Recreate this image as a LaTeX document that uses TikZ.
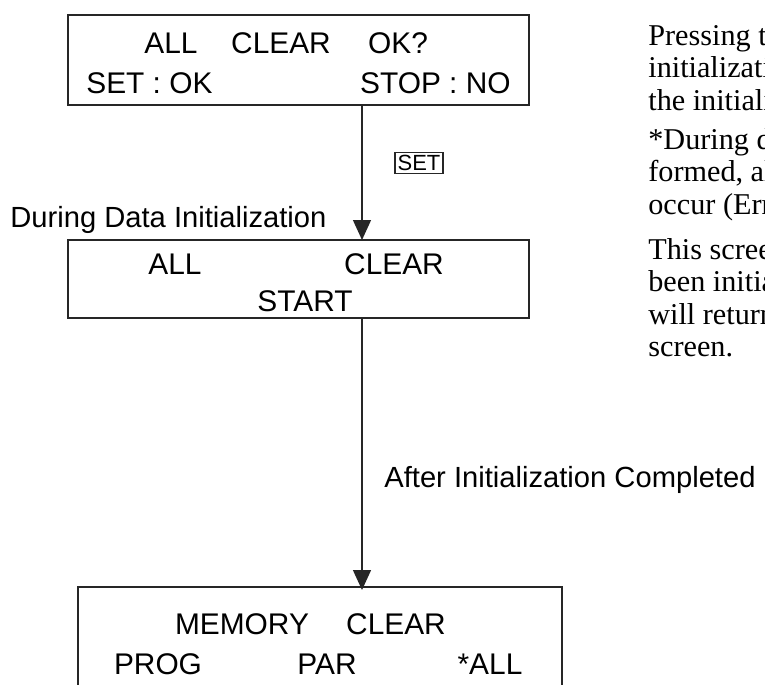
\documentclass[tikz,border=0pt]{standalone}
\usepackage{fontspec}
\setmainfont{Liberation Serif}
\setsansfont{Liberation Sans}
\usetikzlibrary{arrows.meta, positioning}

\begin{document}
\begin{tikzpicture}[
    x=0.02cm, y=-0.02cm,
    screen/.style={rectangle, draw=black!85, line width=0.8pt, inner sep=0pt},
    lcd/.style={font=\sffamily\fontsize{17}{20}\selectfont, inner sep=0pt, anchor=base},
    note/.style={font=\sffamily\fontsize{16.6}{20}\selectfont, inner sep=0pt, anchor=base west},
    keybox/.style={rectangle, draw=black!85, line width=0.6pt, inner sep=1.5pt, font=\sffamily\fontsize{12.5}{14}\selectfont},
    side/.style={font=\fontsize{17.2}{18.5}\selectfont, inner sep=0pt, anchor=north west, align=left},
    arrow/.style={line width=0.8pt, black!85, -{Triangle[length=0.4cm, width=0.36cm]}}
]
\clip (0,0) rectangle (765,684);

% screens
\node (s1) [screen, minimum width=9.22cm, minimum height=1.8cm] at (298.5,60) {};
\node (s2) [screen, minimum width=9.22cm, minimum height=1.56cm] at (298.5,279) {};
\node (s3) [screen, minimum width=9.68cm, minimum height=2.4cm] at (320,647) {};

% screen texts
\node (t1a) [lcd] at (171,53) {ALL};
\node (t1b) [lcd] at (281,53) {CLEAR};
\node (t1c) [lcd] at (398,53) {OK?};
\node (t1d) [lcd, anchor=base west] at (86,93) {SET : OK};
\node (t1e) [lcd, anchor=base east] at (511,93) {STOP : NO};

\node (t2a) [lcd] at (175,274) {ALL};
\node (t2b) [lcd] at (394,274) {CLEAR};
\node (t2c) [lcd] at (305,311) {START};

\node (t3a) [lcd] at (242,634) {MEMORY};
\node (t3b) [lcd] at (396,634) {CLEAR};
\node (t3c) [lcd] at (158,674) {PROG};
\node (t3d) [lcd] at (327,674) {PAR};
\node (t3e) [lcd] at (490,674) {*ALL};

% transitions
\coordinate (a1) at (362,240);
\coordinate (a2) at (362,590);
\draw[arrow] (s1.south -| a1) -- (a1);
\draw[arrow] (s2.south -| a2) -- (a2);

\node (key) [keybox] at (419,163) {SET};
\node (during) [note] at (10,227) {During Data Initialization};
\node (after) [note] at (384,487) {After Initialization Completed};

% side notes
\node (p1) [side] at (648,24) {Pressing the\\initialization\\the initialized};
\node (p2) [side] at (648,128) {*During data\\formed, all\\occur (Error};
\node (p3) [side] at (648,238) {This screen\\been initialized\\will return\\screen.};

\end{tikzpicture}
\end{document}
